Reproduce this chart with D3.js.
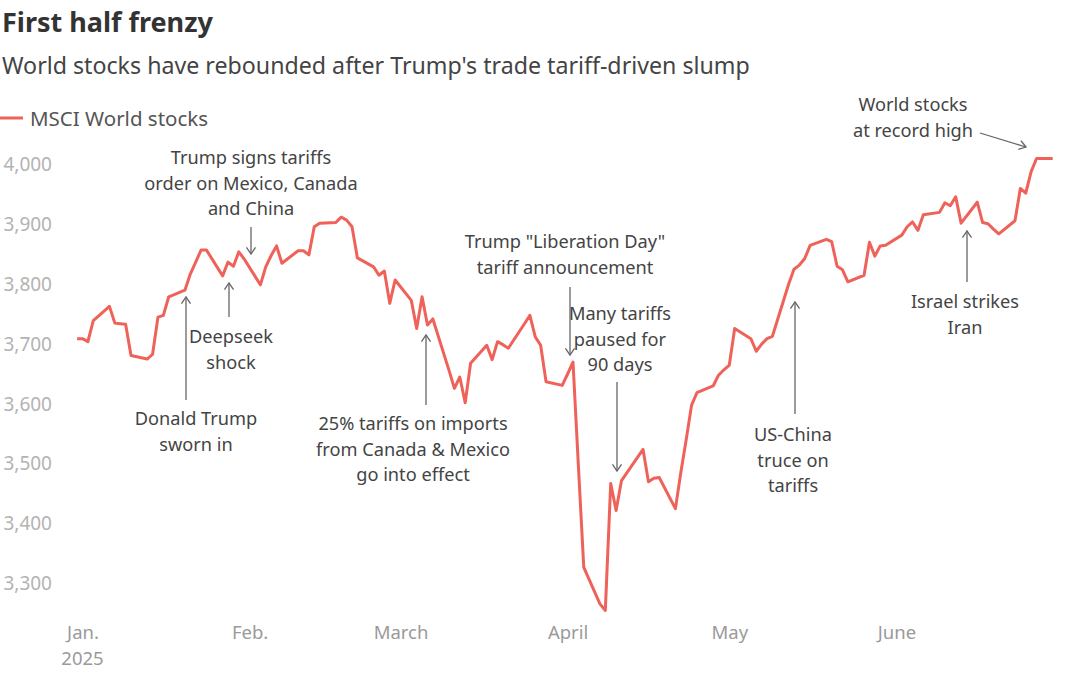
<!DOCTYPE html>
<html>
<head>
<meta charset="utf-8">
<script src="https://cdn.jsdelivr.net/npm/d3@7"></script>
<style>
  body { margin: 0; background: #fff; }
  svg { font-family: "Noto Sans", Lato, sans-serif; }
</style>
</head>
<body>
<div id="chart"></div>
<script>
// MSCI World index, daily closes
const janDates = ["2024-12-31","2025-01-01","2025-01-02","2025-01-03","2025-01-06","2025-01-07","2025-01-08","2025-01-09","2025-01-10","2025-01-13","2025-01-14","2025-01-15","2025-01-16","2025-01-17","2025-01-20","2025-01-21","2025-01-22","2025-01-23","2025-01-24","2025-01-27","2025-01-28","2025-01-29","2025-01-30","2025-01-31"];
const janValues = [3709,3709,3704,3739,3763,3735,3734,3733,3681,3675,3683,3745,3748,3779,3790,3817,3837,3857,3857,3814,3837,3830,3854,3842];

const febDates = ["2025-02-03","2025-02-04","2025-02-05","2025-02-06","2025-02-07","2025-02-10","2025-02-11","2025-02-12","2025-02-13","2025-02-14","2025-02-17","2025-02-18","2025-02-19","2025-02-20","2025-02-21","2025-02-24","2025-02-25","2025-02-26","2025-02-27","2025-02-28"];
const febValues = [3799,3829,3848,3864,3835,3856,3856,3849,3896,3902,3903,3912,3907,3896,3844,3829,3815,3822,3768,3807];

const marDates = ["2025-03-03","2025-03-04","2025-03-05","2025-03-06","2025-03-07","2025-03-10","2025-03-11","2025-03-12","2025-03-13","2025-03-14","2025-03-17","2025-03-18","2025-03-19","2025-03-20","2025-03-21","2025-03-24","2025-03-25","2025-03-26","2025-03-27","2025-03-28","2025-03-31"];
const marValues = [3773,3726,3779,3732,3742,3656,3626,3645,3602,3668,3698,3674,3704,3699,3693,3734,3748,3712,3698,3637,3631];

const aprDates = ["2025-04-01","2025-04-02","2025-04-03","2025-04-04","2025-04-07","2025-04-08","2025-04-09","2025-04-10","2025-04-11","2025-04-14","2025-04-15","2025-04-16","2025-04-17","2025-04-18","2025-04-21","2025-04-22","2025-04-23","2025-04-24","2025-04-25","2025-04-28","2025-04-29","2025-04-30"];
const aprValues = [3650,3670,3497,3327,3266,3255,3467,3422,3472,3511,3524,3470,3476,3477,3425,3485,3540,3598,3619,3630,3648,3657];

const mayDates = ["2025-05-01","2025-05-02","2025-05-05","2025-05-06","2025-05-07","2025-05-08","2025-05-09","2025-05-12","2025-05-13","2025-05-14","2025-05-15","2025-05-16","2025-05-19","2025-05-20","2025-05-21","2025-05-22","2025-05-23","2025-05-26","2025-05-27","2025-05-28","2025-05-29","2025-05-30"];
const mayValues = [3665,3726,3709,3688,3700,3709,3713,3800,3825,3832,3843,3865,3875,3871,3830,3824,3804,3815,3870,3847,3864,3865];

const junDates = ["2025-06-02","2025-06-03","2025-06-04","2025-06-05","2025-06-06","2025-06-09","2025-06-10","2025-06-11","2025-06-12","2025-06-13","2025-06-16","2025-06-17","2025-06-18","2025-06-19","2025-06-20","2025-06-23","2025-06-24","2025-06-25","2025-06-26","2025-06-27","2025-06-30"];
const junValues = [3882,3896,3904,3890,3916,3920,3936,3931,3946,3902,3937,3903,3901,3892,3884,3906,3960,3952,3988,4010,4010];

const yTicks = [3300, 3400, 3500, 3600, 3700, 3800, 3900, 4000];
const monthTicks = ["2025-01-01","2025-02-01","2025-03-01","2025-04-01","2025-05-01","2025-06-01"];
const monthLabels = ["Jan.","Feb.","March","April","May","June"];

// annotation text + leader arrows (layout, in pixels)
const notes = [
    { lines: ["Trump signs tariffs", "order on Mexico, Canada", "and China"], x: 251, y: 164, ax: 251, ay1: 227, ay2: 254 },
    { lines: ["Deepseek", "shock"], x: 231, y: 343, ax: 229, ay1: 317, ay2: 283 },
    { lines: ["Donald Trump", "sworn in"], x: 196, y: 425, ax: 186, ay1: 400, ay2: 297 },
    { lines: ["25% tariffs on imports", "from Canada & Mexico", "go into effect"], x: 413, y: 430, ax: 426, ay1: 405, ay2: 335 },
    { lines: ["Trump \"Liberation Day\"", "tariff announcement"], x: 565, y: 248, ax: 570, ay1: 287, ay2: 355 },
    { lines: ["Many tariffs", "paused for", "90 days"], x: 620, y: 320, ax: 617, ay1: 382, ay2: 471 },
    { lines: ["US-China", "truce on", "tariffs"], x: 793, y: 441, ax: 795, ay1: 414, ay2: 302 },
    { lines: ["Israel strikes", "Iran"], x: 965, y: 308, ax: 967, ay1: 282, ay2: 231 },
    { lines: ["World stocks", "at record high"], x: 913, y: 111 }
];

const width = 1068, height = 696;
const lineColor = "#ef6259";
const parse = d3.timeParse("%Y-%m-%d");

const data = [];
[[janDates, janValues], [febDates, febValues], [marDates, marValues],
 [aprDates, aprValues], [mayDates, mayValues], [junDates, junValues]].forEach(([ds, vs]) => {
    ds.forEach((d, i) => data.push({ date: parse(d), value: vs[i] }));
});

const svg = d3.select("#chart").append("svg")
    .attr("width", width)
    .attr("height", height)
    .attr("viewBox", `0 0 ${width} ${height}`);

const x = d3.scaleTime()
    .domain([parse("2025-01-01"), parse("2025-06-30")])
    .range([82.5, 82.5 + 180 * 5.39]);

const y = d3.scaleLinear()
    .domain([3300, 4000])
    .range([583.5, 164.5]);

// title block
svg.append("text")
    .attr("x", 2).attr("y", 32)
    .attr("font-size", 27).attr("font-weight", 700)
    .attr("fill", "#333")
    .text("First half frenzy");

svg.append("text")
    .attr("x", 2).attr("y", 74)
    .attr("font-size", 23.2)
    .attr("fill", "#444")
    .text("World stocks have rebounded after Trump's trade tariff-driven slump");

// legend
svg.append("line")
    .attr("x1", 0).attr("x2", 23)
    .attr("y1", 118).attr("y2", 118)
    .attr("stroke", lineColor).attr("stroke-width", 3);
svg.append("text")
    .attr("x", 30).attr("y", 126)
    .attr("font-size", 20.5)
    .attr("fill", "#555")
    .text("MSCI World stocks");

// y axis (labels only)
const yAxis = svg.append("g")
    .attr("transform", "translate(52,0)")
    .call(d3.axisLeft(y).tickValues(yTicks).tickSize(0).tickPadding(0).tickFormat(d3.format(",")));
yAxis.select(".domain").remove();
yAxis.selectAll("text")
    .attr("font-family", "'Noto Sans', Lato, sans-serif")
    .attr("font-size", 19)
    .attr("fill", "#b3b3b3");

// x axis (labels only)
const xAxis = svg.append("g")
    .attr("transform", "translate(0,626)")
    .call(d3.axisBottom(x)
        .tickValues(monthTicks.map(parse))
        .tickSize(0).tickPadding(0)
        .tickFormat((d, i) => monthLabels[i]));
xAxis.select(".domain").remove();
xAxis.selectAll("text")
    .attr("font-family", "'Noto Sans', Lato, sans-serif")
    .attr("font-size", 18.5)
    .attr("fill", "#9a9a9a");

svg.append("text")
    .attr("x", x(parse("2025-01-01"))).attr("y", 665)
    .attr("text-anchor", "middle")
    .attr("font-size", 18.5)
    .attr("fill", "#9a9a9a")
    .text("2025");

// the line
const line = d3.line()
    .x(d => x(d.date))
    .y(d => y(d.value));

svg.append("path")
    .datum(data)
    .attr("fill", "none")
    .attr("stroke", lineColor)
    .attr("stroke-width", 3)
    .attr("stroke-linejoin", "round")
    .attr("d", line);

// annotations
const noteColor = "#444";
const arrowColor = "#666";

function arrow(x1, y1, x2, y2) {
    const g = svg.append("g")
        .attr("stroke", arrowColor).attr("stroke-width", 1.3)
        .attr("fill", "none");
    g.append("line").attr("x1", x1).attr("y1", y1).attr("x2", x2).attr("y2", y2);
    const a = Math.atan2(y2 - y1, x2 - x1);
    const len = 8, spread = 0.6;
    g.append("path")
        .attr("d", `M${x2 - len * Math.cos(a - spread)},${y2 - len * Math.sin(a - spread)}L${x2},${y2}L${x2 - len * Math.cos(a + spread)},${y2 - len * Math.sin(a + spread)}`);
}

notes.forEach(n => {
    const t = svg.append("text")
        .attr("text-anchor", "middle")
        .attr("font-size", 18.2)
        .attr("fill", noteColor);
    n.lines.forEach((l, i) => {
        t.append("tspan").attr("x", n.x).attr("y", n.y + i * 25.5).text(l);
    });
    if (n.ax !== undefined) arrow(n.ax, n.ay1, n.ax, n.ay2);
});

// record high arrow is slanted
arrow(980, 133, 1026, 147);
</script>
</body>
</html>
